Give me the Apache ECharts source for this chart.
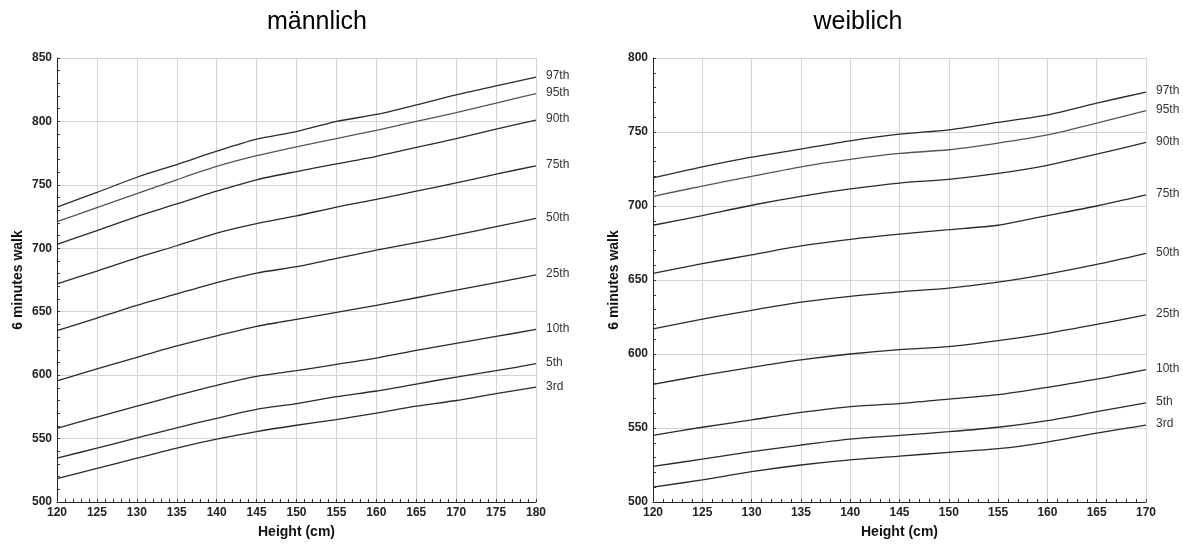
<!DOCTYPE html>
<html>
<head>
<meta charset="utf-8">
<script src="https://cdn.jsdelivr.net/npm/echarts@6/dist/echarts.min.js"></script>
<style>
html,body{margin:0;padding:0;background:#fff;}
#c{width:1183px;height:544px;}
</style>
</head>
<body>
<div id="c"></div>
<script>
const percentiles = ['97th','95th','90th','75th','50th','25th','10th','5th','3rd'];

const heightsM = [120,125,130,135,140,145,150,155,160,165,170,175,180];
const m97 = [732.5,744,756,766,776.5,786,792,800,805.5,813,821,828,835];
const m95 = [721,732,743,754,764.5,773,780,786.5,793,800,807,814.5,822];
const m90 = [703,714,725,735,745,754,760.5,766.5,772.5,779.5,786.5,794,801];
const m75 = [672,682,692.5,702,712,719.5,725.5,732.5,738.5,745,751.5,758.5,765];
const m50 = [635,645,655,664,673,680.5,685.5,692,698.5,704.5,710.5,717,723.5];
const m25 = [595.5,605,614,623,631,638.5,644,649.5,655,661,667,673,679];
const m10 = [558,567,575.5,584,592,599,603.5,608.5,613.5,619.5,625,630.5,636];
const m5  = [534.5,542.5,550.5,558.5,566,573,577.5,583,587.5,593,598.5,603.5,609];
const m3  = [518.5,526.5,534.5,542.5,549.5,555.5,560.5,565,570,575.5,580,585.5,590.5];

const heightsF = [120,125,130,135,140,145,150,155,160,165,170];
const f97 = [719,726.5,733,738.5,744,748.5,751.5,756.5,761.5,769.5,777];
const f95 = [706.5,713.5,720,726.5,731.5,735.5,738,742.5,748,756,764.5];
const f90 = [687,693.5,700.5,706.5,711.5,715.5,718,722,727.5,735,743];
const f75 = [654.5,661,667,673,677.5,681,684,687,693.5,700,707.5];
const f50 = [617,623.5,629.5,635,639,642,644.5,648.5,654,660.5,668];
const f25 = [579.5,585.5,591,596,600,603,605,609,614,620,626.5];
const f10 = [545,550.5,555.5,560.5,564.5,566.5,569.5,572.5,577.5,583,589.5];
const f5  = [524,529,534,538.5,542.5,545,547.5,550.5,555,561,567];
const f3  = [510,515,520.5,525,528.5,531,533.5,536,540.5,546.5,552];

const titleM = 'männlich';
const titleF = 'weiblich';
const yName = '6 minutes walk';
const xName = 'Height (cm)';

const maleSets = [m97,m95,m90,m75,m50,m25,m10,m5,m3];
const femaleSets = [f97,f95,f90,f75,f50,f25,f10,f5,f3];

const FONT = 'Liberation Sans, Arial, Helvetica, sans-serif';

function xAxisCfg(gridIndex, max) {
  return {
    type: 'value', gridIndex: gridIndex, min: 120, max: max, interval: 5,
    name: xName, nameLocation: 'middle', nameGap: 23,
    nameTextStyle: {fontFamily: FONT, fontSize: 14, fontWeight: 'bold', color: '#111'},
    axisLine: {show: true, onZero: false, lineStyle: {color: '#222', width: 1}},
    axisTick: {show: true, inside: true, length: 3, lineStyle: {color: '#333'}},
    minorTick: {show: true, splitNumber: 5, length: 3, lineStyle: {color: '#333'}},
    axisLabel: {fontFamily: FONT, fontSize: 12, fontWeight: 'bold', color: '#222', margin: 5},
    splitLine: {show: true, lineStyle: {color: '#d4d4d4', width: 1}}
  };
}
function yAxisCfg(gridIndex, max) {
  return {
    type: 'value', gridIndex: gridIndex, min: 500, max: max, interval: 50,
    name: yName, nameLocation: 'middle', nameGap: 32, nameRotate: 90,
    nameTextStyle: {fontFamily: FONT, fontSize: 14, fontWeight: 'bold', color: '#111'},
    axisLine: {show: true, onZero: false, lineStyle: {color: '#222', width: 1}},
    axisTick: {show: true, inside: true, length: 3, lineStyle: {color: '#333'}},
    minorTick: {show: true, splitNumber: 5, length: 3, lineStyle: {color: '#333'}},
    axisLabel: {fontFamily: FONT, fontSize: 12, fontWeight: 'bold', color: '#222', margin: 5},
    splitLine: {show: true, lineStyle: {color: '#d4d4d4', width: 1}}
  };
}

const series = [];
function addSeries(sets, heights, axisIndex) {
  sets.forEach(function (vals, i) {
    series.push({
      name: percentiles[i],
      type: 'line',
      xAxisIndex: axisIndex, yAxisIndex: axisIndex,
      data: heights.map(function (h, k) { return [h, vals[k]]; }),
      showSymbol: false, symbol: 'none', smooth: 0.25,
      lineStyle: {color: i === 1 ? '#555' : '#2a2a2a', width: 1.3},
      itemStyle: {color: '#333'},
      silent: true,
      endLabel: {show: true, formatter: '{a}', distance: 10, offset: [0, -1],
        fontFamily: FONT, fontSize: 12, color: '#333'}
    });
  });
}
addSeries(maleSets, heightsM, 0);
addSeries(femaleSets, heightsF, 1);

const chart = echarts.init(document.getElementById('c'), null, {renderer: 'canvas'});
chart.setOption({
  animation: false,
  backgroundColor: '#fff',
  graphic: [
    {type: 'text', x: 317, y: 22, style: {text: titleM, fontFamily: FONT, fontSize: 25, fill: '#000', align: 'center', verticalAlign: 'middle'}},
    {type: 'text', x: 858, y: 22, style: {text: titleF, fontFamily: FONT, fontSize: 25, fill: '#000', align: 'center', verticalAlign: 'middle'}}
  ],
  grid: [
    {left: 57, right: 647, top: 58, bottom: 38, containLabel: false},
    {left: 653, right: 37, top: 58, bottom: 39, containLabel: false}
  ],
  xAxis: [xAxisCfg(0, 180), xAxisCfg(1, 170)],
  yAxis: [yAxisCfg(0, 850), yAxisCfg(1, 800)],
  series: series
});
</script>
</body>
</html>
